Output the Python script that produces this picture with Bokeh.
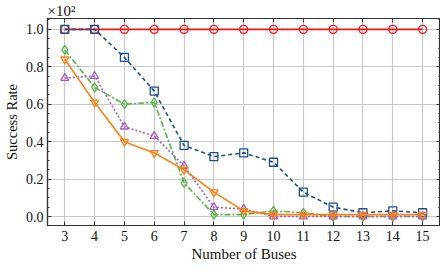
from bokeh.plotting import figure
from bokeh.models import LinearAxis, Range1d, FixedTicker, PrintfTickFormatter, CustomJSTickFormatter
from bokeh.embed import file_html
from bokeh.resources import INLINE

buses = [3, 4, 5, 6, 7, 8, 9, 10, 11, 12, 13, 14, 15]
red_vals = [1.0, 1.0, 1.0, 1.0, 1.0, 1.0, 1.0, 1.0, 1.0, 1.0, 1.0, 1.0, 1.0]
blue_vals = [1.0, 1.0, 0.85, 0.67, 0.38, 0.32, 0.34, 0.29, 0.13, 0.05, 0.02, 0.03, 0.02]
green_vals = [0.89, 0.69, 0.60, 0.61, 0.18, 0.01, 0.01, 0.03, 0.02, 0.0, 0.0, 0.0, 0.0]
purple_vals = [0.74, 0.75, 0.48, 0.43, 0.27, 0.05, 0.04, 0.0, 0.0, 0.0, 0.0, 0.0, 0.0]
orange_vals = [0.84, 0.61, 0.40, 0.34, 0.25, 0.13, 0.03, 0.01, 0.01, 0.01, 0.01, 0.01, 0.01]
y_ticks = [0.0, 0.2, 0.4, 0.6, 0.8, 1.0]

FONT = "Liberation Serif"
FS = "14px"

p = figure(width=440, height=264, output_backend="svg", toolbar_location=None,
           x_range=Range1d(2.42, 15.6), y_range=Range1d(-0.048, 1.058),
           min_border_left=0, min_border_right=0, min_border_top=0, min_border_bottom=0)
p.outline_line_color = "#333333"
p.outline_line_width = 1.2

p.title.text = "×10²"
p.title.align = "left"
p.title.text_font = FONT
p.title.text_font_size = "15px"
p.title.text_font_style = "normal"
p.title.text_color = "#111111"
p.title.standoff = 0
p.title.offset = 0

def style_axis(ax, labels=True):
    ax.axis_line_color = "#333333"
    ax.axis_line_width = 1.2
    ax.major_tick_in = 4
    ax.major_tick_out = 0
    ax.minor_tick_in = 2
    ax.minor_tick_out = 0
    ax.major_tick_line_color = "#333333"
    ax.minor_tick_line_color = "#333333"
    ax.major_label_text_font = FONT
    ax.major_label_text_font_size = FS
    ax.major_label_text_color = "#111111"
    ax.axis_label_text_font = FONT
    ax.axis_label_text_font_size = FS
    ax.axis_label_text_font_style = "normal"
    ax.axis_label_text_color = "#111111"
    if not labels:
        ax.formatter = CustomJSTickFormatter(code="return ''")
        ax.major_label_text_font_size = "1px"
        ax.major_label_standoff = 0

xt = FixedTicker(ticks=buses, minor_ticks=[])
yt = FixedTicker(ticks=y_ticks, minor_ticks=[i * 0.05 for i in range(-1, 22)])

p.xaxis.ticker = xt
p.yaxis.ticker = yt
style_axis(p.xaxis[0])
style_axis(p.yaxis[0])
p.yaxis.formatter = PrintfTickFormatter(format="%.1f")
p.xaxis.axis_label = "Number of Buses"
p.yaxis.axis_label = "Success Rate"
p.xaxis.axis_label_text_font_size = "15px"
p.yaxis.axis_label_text_font_size = "14.5px"
p.xaxis.axis_label_standoff = 2
p.yaxis.axis_label_standoff = 3
p.xaxis.major_label_standoff = 5
p.yaxis.major_label_standoff = 4

top = LinearAxis(ticker=xt)
style_axis(top, labels=False)
p.add_layout(top, "above")
right = LinearAxis(ticker=yt)
style_axis(right, labels=False)
p.add_layout(right, "right")

p.xgrid.ticker = xt
p.ygrid.ticker = yt
p.grid.grid_line_color = "#c8c8c8"
p.grid.grid_line_width = 1.2

series = [
    (red_vals, "#f21414", "solid", "circle"),
    (blue_vals, "#1b4f8f", "4 3", "square"),
    (green_vals, "#58b34a", "6 2 2 2", "diamond"),
    (purple_vals, "#a25cbf", "2 2", "triangle"),
    (orange_vals, "#ff7f0e", "solid", "inverted_triangle"),
]
for vals, col, dash, mk in series:
    p.line(buses, vals, line_color=col, line_width=1.6, line_dash=dash)
    p.scatter(buses, vals, marker=mk, size=9 if mk == "diamond" else 8,
              line_color=col, line_width=1.3, fill_color=None)

open("out.html", "w").write(file_html(p, INLINE))
